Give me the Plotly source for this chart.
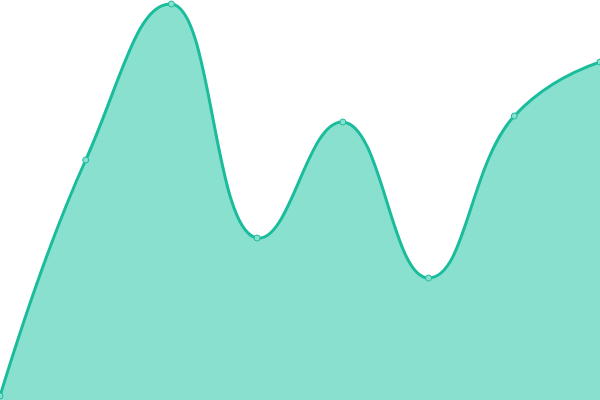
import plotly.graph_objects as go

x_values = [0, 1, 2, 3, 4, 5, 6, 7]
y_values = [1, 60, 99, 40.5, 69.5, 30.5, 71, 84.5]

fig = go.Figure()
fig.add_trace(go.Scatter(
    x=x_values, y=y_values,
    mode="lines+markers",
    line=dict(color="#1abc9c", width=3, shape="spline", smoothing=1.3),
    marker=dict(size=6, color="#8ae0cf", line=dict(color="#1abc9c", width=1)),
    fill="tozeroy",
    fillcolor="#8ae0cf",
    hoverinfo="x+y",
))

fig.update_layout(
    width=600, height=400,
    margin=dict(l=0, r=0, t=0, b=0),
    paper_bgcolor="white", plot_bgcolor="white",
    showlegend=False,
    xaxis=dict(visible=False, range=[0, 7]),
    yaxis=dict(visible=False, range=[0, 100]),
)

# page body has a default 8px margin, drop it so the plot fills the window
fig.write_html("out.html", config={"displayModeBar": False},
               post_script="document.body.style.margin='0';")
